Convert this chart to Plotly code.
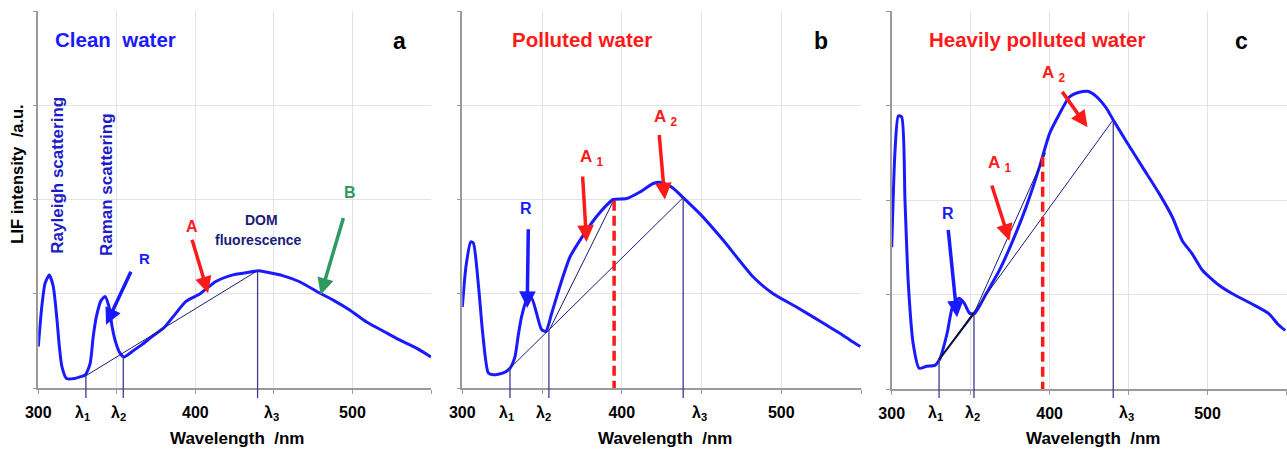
import plotly.graph_objects as go

W, H = 1287, 450

# ---------------- data ----------------
wl_a = [300, 302.2, 304.3, 307, 309.5, 311.7, 313.4, 315, 318, 323, 327, 330, 333, 335, 337, 340,
        342.5, 345, 347, 349, 352, 354.5, 360, 366, 372, 380, 386, 394, 403, 413, 424, 435, 440,
        445, 456, 466, 480, 488, 498, 509, 520, 530, 541, 550]
int_a = [0.44, 0.86, 1.11, 1.20, 1.08, 0.76, 0.44, 0.23, 0.10, 0.10, 0.12, 0.14, 0.26, 0.55, 0.76, 0.93,
         0.97, 0.86, 0.65, 0.50, 0.37, 0.33, 0.39, 0.46, 0.54, 0.64, 0.76, 0.92, 1.00, 1.13, 1.20, 1.23, 1.245,
         1.23, 1.19, 1.13, 1.00, 0.93, 0.83, 0.70, 0.60, 0.51, 0.42, 0.33]

wl_b = [300, 302.3, 305.3, 306.9, 310, 312.8, 316.3, 319.4, 325.7, 329.9, 333, 335, 337.2, 340.3, 343.5,
        346.6, 349.7, 352.4, 356, 361.2, 367.5, 375.8, 384.2, 390.5, 394.6, 403, 411.4, 419.7, 425, 432.2,
        438.5, 448.9, 463.5, 482.3, 494.9, 509.5, 526.2, 536.7, 543, 549.6]
int_b = [0.86, 1.29, 1.55, 1.54, 1.11, 0.58, 0.16, 0.14, 0.16, 0.21, 0.33, 0.55, 0.76, 0.93, 0.95,
         0.79, 0.62, 0.60, 0.79, 1.08, 1.39, 1.62, 1.82, 1.94, 2.00, 2.01, 2.08, 2.17, 2.18, 2.12,
         2.02, 1.85, 1.57, 1.18, 1.00, 0.86, 0.69, 0.58, 0.51, 0.44]

wl_c = [300, 302.1, 304.2, 306.3, 308.4, 310.5, 313.6, 317.4, 322.1, 327.3, 330.5, 335.1, 338.5, 342.7,
        346.2, 349.4, 352.6, 359.9, 368.3, 376.7, 385.2, 393.6, 399.9, 406.2, 412.5, 418.8, 424, 429.3,
        435.6, 440.2, 448.2, 458.7, 469.3, 477.7, 484, 490.3, 496.6, 507.1, 515.5, 528.1, 538.6, 544.9, 549.2]
int_c = [1.50, 2.52, 2.89, 2.88, 2.00, 1.12, 0.48, 0.22, 0.24, 0.25, 0.32, 0.59, 0.87, 0.96,
         0.90, 0.80, 0.80, 1.01, 1.26, 1.57, 1.93, 2.35, 2.70, 2.91, 3.09, 3.14, 3.15, 3.10,
         2.98, 2.85, 2.63, 2.35, 2.07, 1.82, 1.57, 1.43, 1.26, 1.10, 1.01, 0.90, 0.80, 0.68, 0.62]

# lambda positions (nm) and curve intensity at them
lam_a = [330.3, 354.1, 439.6]
lamv_a = [0.13, 0.32, 1.245]
lam_b = [329.9, 354.3, 438.5]
lamv_b = [0.21, 0.605, 2.02]
lam_c = [330.0, 352.1, 440.3]
lamv_c = [0.31, 0.80, 2.85]
# A1 cut (red dashed) position and value
cut_b = (395.2, 2.00)
cut_c = (395.6, 2.49)
tangent_end_c = (397.5, 2.50)

xtick_vals = [300, 400, 500]
xtick_text = ['300', '400', '500']
xminor_vals = [350, 450, 550]
lambda_labels = ['λ<sub>1</sub>', 'λ<sub>2</sub>', 'λ<sub>3</sub>']
lambda_label_pos = [328.0, 351.0, 448.5]

titles = ['Clean  water', 'Polluted water', 'Heavily polluted water']
title_colors = ['#1a1aff', '#ff1a1a', '#ff1a1a']
title_x = [348.9, 375.0, 392.3]
letters = ['a', 'b', 'c']
letter_x = [530.1, 525.2, 521.3]

# ---------------- layout geometry (pixels) ----------------
panels = [
    dict(x0=38.3, x1=431.0, y0=11, y1=388),
    dict(x0=462.3, x1=861.0, y0=11, y1=388),
    dict(x0=891.7, x1=1286.5, y0=11, y1=389),
]

BLUE = '#1a1aff'
RED = '#ff1a1a'
GREEN = '#2e9960'
NAVY = '#1c1c78'
FONT = 'Liberation Sans'
GRID = '#e3e3e3'
AXIS = '#9a9a9a'

fig = go.Figure()
curves = [(wl_a, int_a), (wl_b, int_b), (wl_c, int_c)]
for i, (wx, wy) in enumerate(curves):
    sfx = '' if i == 0 else str(i + 1)
    fig.add_trace(go.Scatter(x=wx, y=wy, mode='lines', xaxis='x' + sfx, yaxis='y' + sfx,
                             line=dict(color=BLUE, width=3, shape='spline', smoothing=0.6),
                             showlegend=False, hoverinfo='skip'))

layout = dict(width=W, height=H, margin=dict(l=0, r=0, t=0, b=0), autosize=False,
              paper_bgcolor='white', plot_bgcolor='white', showlegend=False)
annotations = []
shapes = []


def ypaper(p, v):
    py = p['y1'] - v * (p['y1'] - p['y0']) / 4.0
    return 1 - py / H


for i, p in enumerate(panels):
    sfx = '' if i == 0 else str(i + 1)
    xa = 'x' + sfx
    ya = 'y' + sfx
    layout['xaxis' + sfx] = dict(
        domain=[p['x0'] / W, p['x1'] / W], anchor=ya, range=[300, 550],
        tickmode='array', tickvals=xtick_vals, ticktext=xtick_text,
        minor=dict(tickmode='array', tickvals=xminor_vals, showgrid=True, gridcolor=GRID,
                   ticks='outside', ticklen=4, tickcolor=AXIS),
        showgrid=True, gridcolor=GRID, gridwidth=1,
        showline=True, linecolor=AXIS, linewidth=1.5,
        ticks='outside', ticklen=4, tickcolor=AXIS, ticklabelstandoff=5,
        tickfont=dict(family=FONT, size=16, color='black', weight='bold'),
        zeroline=False, fixedrange=True, automargin=False)
    layout['yaxis' + sfx] = dict(
        domain=[1 - p['y1'] / H, 1 - p['y0'] / H], anchor=xa, range=[0, 4],
        tickmode='array', tickvals=[0, 1, 2, 3, 4], showticklabels=False,
        showgrid=True, gridcolor=GRID, gridwidth=1,
        showline=True, linecolor=AXIS, linewidth=1.5,
        ticks='outside', ticklen=4, tickcolor=AXIS, zeroline=False, fixedrange=True,
        automargin=False)

    # lambda tick labels
    for lab, lx in zip(lambda_labels, lambda_label_pos):
        annotations.append(dict(x=lx, xref=xa, y=1 - 413 / H, yref='paper', text='<b>' + lab + '</b>',
                                showarrow=False, font=dict(family=FONT, size=16, color='black'),
                                xanchor='center', yanchor='middle'))
    # x title
    annotations.append(dict(x=[236.7, 665, 1092.5][i] / W, xref='paper', y=1 - 438 / H, yref='paper',
                            text='<b>Wavelength  /nm</b>', showarrow=False,
                            font=dict(family=FONT, size=17, color='black'),
                            xanchor='center', yanchor='middle'))
    # panel title
    annotations.append(dict(x=title_x[i], xref=xa, y=3.70, yref=ya, text='<b>' + titles[i] + '</b>',
                            showarrow=False, font=dict(family=FONT, size=20.5, color=title_colors[i]),
                            xanchor='center', yanchor='middle'))
    annotations.append(dict(x=letter_x[i], xref=xa, y=3.68, yref=ya, text='<b>' + letters[i] + '</b>',
                            showarrow=False, font=dict(family=FONT, size=23, color='black'),
                            xanchor='center', yanchor='middle'))

    lams, lamv = [(lam_a, lamv_a), (lam_b, lamv_b), (lam_c, lamv_c)][i]
    # vertical lambda lines (extend below the axis)
    for lx, lv in zip(lams, lamv):
        shapes.append(dict(type='line', xref=xa, yref='paper', x0=lx, x1=lx,
                           y0=1 - 398 / H, y1=ypaper(p, lv),
                           line=dict(color='#3a3a96', width=1.3)))
    # baseline lambda1 -> lambda3
    shapes.append(dict(type='line', xref=xa, yref=ya, x0=lams[0], y0=lamv[0], x1=lams[2], y1=lamv[2],
                       line=dict(color=NAVY, width=1)))

# tangent lines and red dashed cut lines
shapes.append(dict(type='line', xref='x2', yref='y2', x0=lam_b[1], y0=lamv_b[1], x1=cut_b[0], y1=cut_b[1],
                   line=dict(color=NAVY, width=1)))
shapes.append(dict(type='line', xref='x3', yref='y3', x0=lam_c[1], y0=lamv_c[1],
                   x1=tangent_end_c[0], y1=tangent_end_c[1], line=dict(color=NAVY, width=1)))
shapes.append(dict(type='line', xref='x3', yref='y3', x0=lam_c[0], y0=lamv_c[0], x1=lam_c[1], y1=lamv_c[1],
                   line=dict(color='#101040', width=2)))
for xa, ya, (cx, cv) in [('x2', 'y2', cut_b), ('x3', 'y3', cut_c)]:
    shapes.append(dict(type='line', xref=xa, yref=ya, x0=cx, x1=cx, y0=-0.03, y1=cv,
                       line=dict(color=RED, width=3.5, dash='10px,5px')))


def arrow(xa, ya, tail, head, color, width=3.5, size=0.95):
    annotations.append(dict(x=head[0], y=head[1], xref=xa, yref=ya, ax=tail[0], ay=tail[1],
                            axref=xa, ayref=ya, text='', showarrow=True, arrowhead=2,
                            arrowwidth=width, arrowsize=size, arrowcolor=color, standoff=0))


def label(xa, ya, pos, text, color, size=15):
    annotations.append(dict(x=pos[0], y=pos[1], xref=xa, yref=ya, text='<b>' + text + '</b>',
                            showarrow=False, font=dict(family=FONT, size=size, color=color),
                            xanchor='center', yanchor='middle'))


# panel a
arrow('x', 'y', (359.4, 1.25), (343.1, 0.67), BLUE)
label('x', 'y', (367.9, 1.37), 'R', BLUE)
arrow('x', 'y', (397.6, 1.59), (408.1, 1.005), RED)
label('x', 'y', (398.0, 1.71), 'A', RED, 16)
arrow('x', 'y', (494.5, 1.82), (479.8, 0.99), GREEN)
label('x', 'y', (498.3, 2.07), 'B', GREEN, 16)
label('x', 'y', (442.1, 1.78), 'DOM', NAVY, 14)
label('x', 'y', (440.0, 1.57), 'fluorescence', NAVY, 14)
annotations.append(dict(x=311.7, y=2.26, xref='x', yref='y', text='<b>Rayleigh scattering</b>',
                        textangle=-90, showarrow=False, xanchor='center', yanchor='middle',
                        font=dict(family=FONT, size=17, color='#1c1cc8')))
annotations.append(dict(x=343.5, y=2.16, xref='x', yref='y', text='<b>Raman scattering</b>',
                        textangle=-90, showarrow=False, xanchor='center', yanchor='middle',
                        font=dict(family=FONT, size=17, color='#1c1cc8')))
annotations.append(dict(x=16.7 / W, y=1 - 174 / H, xref='paper', yref='paper', text='<b>LIF intensity  /a.u.</b>',
                        textangle=-90, showarrow=False, xanchor='center', yanchor='middle',
                        font=dict(family=FONT, size=16.5, color='black')))

# panel b
arrow('x2', 'y2', (341.4, 1.70), (340.7, 0.85), BLUE)
label('x2', 'y2', (339.7, 1.90), 'R', BLUE, 16)
arrow('x2', 'y2', (375.4, 2.26), (377.9, 1.55), RED)
label('x2', 'y2', (381.1, 2.44), 'A <sub>1</sub>', RED, 17)
arrow('x2', 'y2', (423.4, 2.70), (427.0, 2.00), RED)
label('x2', 'y2', (427.6, 2.86), 'A <sub>2</sub>', RED, 17)

# panel c
arrow('x3', 'y3', (335.7, 1.70), (341.4, 0.76), BLUE)
label('x3', 'y3', (335.7, 1.86), 'R', BLUE, 16)
arrow('x3', 'y3', (363.1, 2.17), (374.6, 1.57), RED)
label('x3', 'y3', (368.3, 2.38), 'A <sub>1</sub>', RED, 17)
arrow('x3', 'y3', (407.3, 3.16), (424.0, 2.77), RED)
label('x3', 'y3', (402.6, 3.33), 'A <sub>2</sub>', RED, 17)

layout['annotations'] = annotations
layout['shapes'] = shapes
fig.update_layout(**layout)
fig.write_html('out.html', config={'responsive': False, 'displayModeBar': False},
               post_script="document.body.style.margin='0';document.body.style.padding='0';"
                           "document.body.style.overflow='hidden';")
